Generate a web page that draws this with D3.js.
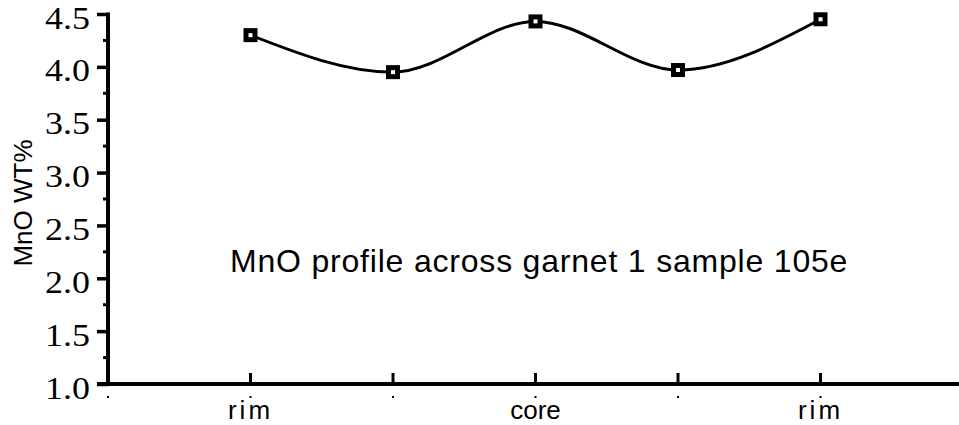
<!DOCTYPE html>
<html>
<head>
<meta charset="utf-8">
<script src="https://cdn.jsdelivr.net/npm/d3@7"></script>
<style>
  body { margin: 0; background: #fff; }
  svg { display: block; }
</style>
</head>
<body>
<div id="chart"></div>
<script>
// data
const positions = [1, 2, 3, 4, 5];
const posLabels = ["rim", "", "core", "", "rim"];
const mnoValues = [4.30, 3.95, 4.43, 3.97, 4.45];
const yTicks = [1.0, 1.5, 2.0, 2.5, 3.0, 3.5, 4.0, 4.5];
const yMinorTicks = [1.25, 1.75, 2.25, 2.75, 3.25, 3.75, 4.25];
const title = "MnO profile across garnet 1 sample 105e";

const width = 959, height = 425;
const plotLeft = 108, plotTop = 14, plotBottom = 384;

const svg = d3.select("#chart").append("svg")
  .attr("width", width).attr("height", height);

const x = d3.scaleLinear().domain([0, 6]).range([plotLeft, plotLeft + 6 * 142.5]);
const y = d3.scaleLinear().domain([1, 4.5]).range([plotBottom, plotTop]);

// y axis, major ticks outward
const yAxis = svg.append("g")
  .attr("transform", `translate(${plotLeft},0)`)
  .call(d3.axisLeft(y).tickValues(yTicks).tickSize(11).tickFormat(d3.format(".1f")));
yAxis.select(".domain").remove();
yAxis.selectAll(".tick line").attr("stroke", "#000").attr("stroke-width", 3.5);
yAxis.selectAll(".tick text")
  .attr("x", 0)
  .attr("dy", null)
  .attr("text-anchor", "end")
  .attr("transform", "translate(-18,14) scale(1.16,1)")
  .style("font-family", "'Liberation Serif', 'Times New Roman', serif")
  .style("font-size", "31px")
  .attr("fill", "#000");

// minor ticks
svg.append("g")
  .selectAll("line")
  .data(yMinorTicks)
  .join("line")
  .attr("x1", plotLeft - 5).attr("x2", plotLeft)
  .attr("y1", d => y(d)).attr("y2", d => y(d))
  .attr("stroke", "#000").attr("stroke-width", 3);

// axis lines
svg.append("line")
  .attr("x1", plotLeft).attr("x2", plotLeft)
  .attr("y1", y(4.5) - 1.5).attr("y2", y(1) + 1.5)
  .attr("stroke", "#000").attr("stroke-width", 4);
svg.append("line")
  .attr("x1", plotLeft - 11).attr("x2", width)
  .attr("y1", y(1)).attr("y2", y(1))
  .attr("stroke", "#000").attr("stroke-width", 4);

// x ticks pointing up
svg.append("g")
  .selectAll("line")
  .data(positions)
  .join("line")
  .attr("x1", d => x(d)).attr("x2", d => x(d))
  .attr("y1", y(1)).attr("y2", y(1) - 11)
  .attr("stroke", "#000").attr("stroke-width", 3);

// little specks under the axis
svg.append("g")
  .selectAll("rect")
  .data([0].concat(positions))
  .join("rect")
  .attr("x", d => x(d) - 1).attr("y", 396)
  .attr("width", 2).attr("height", 2)
  .attr("fill", "#000");

// x labels
svg.append("g")
  .selectAll("text")
  .data(positions)
  .join("text")
  .attr("x", d => x(d))
  .attr("y", 419)
  .attr("text-anchor", "middle")
  .style("font-family", "'Liberation Sans', Arial, sans-serif")
  .style("font-size", "26px")
  .style("letter-spacing", (d, i) => posLabels[i] === "rim" ? "3px" : "0px")
  .text((d, i) => posLabels[i]);

// y axis title
svg.append("text")
  .attr("transform", "translate(32,203) rotate(-90)")
  .attr("text-anchor", "middle")
  .style("font-family", "'Liberation Sans', Arial, sans-serif")
  .style("font-size", "26px")
  .text("MnO WT%");

// annotation
svg.append("text")
  .attr("x", 230).attr("y", 272)
  .style("font-family", "'Liberation Sans', Arial, sans-serif")
  .style("font-size", "32px")
  .style("letter-spacing", "0.8px")
  .text(title);

// line
const line = d3.line()
  .x((d, i) => x(positions[i]))
  .y(d => y(d))
  .curve(d3.curveMonotoneX);

svg.append("path")
  .datum(mnoValues)
  .attr("d", line)
  .attr("fill", "none")
  .attr("stroke", "#000")
  .attr("stroke-width", 3);

// markers
svg.append("g")
  .selectAll("rect")
  .data(mnoValues)
  .join("rect")
  .attr("x", (d, i) => x(positions[i]) - 4.5)
  .attr("y", d => y(d) - 4.5)
  .attr("width", 9).attr("height", 9)
  .attr("fill", "#fff")
  .attr("stroke", "#000")
  .attr("stroke-width", 5);
</script>
</body>
</html>
